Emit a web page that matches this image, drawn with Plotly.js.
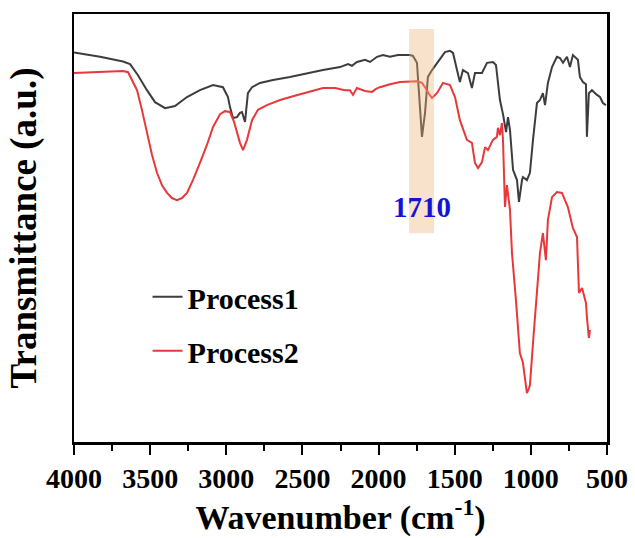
<!DOCTYPE html>
<html>
<head>
<meta charset="utf-8">
<script src="https://cdn.plot.ly/plotly-3.0.1.min.js"></script>
<style>html,body{margin:0;padding:0;background:#fff;}#chart{width:635px;height:538px;}</style>
</head>
<body>
<div id="chart"></div>
<script>
// Process1 (gray) wavenumber (cm-1) and transmittance (a.u.)
const wn1 = [4000,3829,3678,3632,3580,3521,3468,3402,3337,3258,3173,3087,3022,2989,2976,2956,2930,2910,2897,2877,2858,2831,2779,2693,2582,2470,2365,2253,2201,2175,2142,2089,2056,2010,1971,1925,1873,1794,1774,1748,1728,1715,1695,1676,1649,1610,1564,1531,1511,1485,1466,1446,1413,1387,1367,1321,1288,1249,1229,1203,1183,1163,1150,1137,1117,1091,1078,1058,1052,1026,1006,986,960,940,921,907,888,861,829,809,789,763,743,724,691,678,658,638,632,619,599,566,546,527,507];
const t1  = [91.0,90.0,88.9,88.3,85.7,82.2,79.4,78.0,78.5,80.6,82.2,83.4,82.9,80.6,78.3,75.7,75.9,76.9,77.1,74.8,81.5,82.9,83.9,84.6,85.3,86.2,86.9,87.6,88.3,87.9,88.8,89.3,88.8,90.0,90.4,90.0,90.4,90.4,90.2,88.6,76.9,71.3,76.9,85.3,86.9,88.8,91.1,91.4,90.9,86.9,84.1,86.9,86.2,82.7,86.2,86.2,88.6,88.8,88.1,79.9,76.6,72.4,75.9,72.9,63.6,61.2,56.1,61.2,61.9,61.2,62.9,70.6,79.2,79.9,81.5,78.7,83.9,87.6,90.0,89.7,88.6,90.0,87.6,90.4,89.3,85.3,84.1,83.6,71.3,81.5,82.2,81.1,80.6,79.2,78.7];
// Process2 (red)
const wn2 = [4000,3829,3678,3645,3586,3554,3521,3488,3455,3422,3389,3357,3324,3291,3258,3219,3173,3127,3087,3041,3009,2976,2949,2930,2910,2890,2864,2831,2792,2733,2647,2562,2450,2365,2286,2221,2188,2168,2142,2089,2043,2017,1991,1925,1859,1774,1748,1715,1695,1669,1649,1617,1577,1531,1498,1466,1420,1387,1367,1347,1321,1301,1282,1249,1223,1216,1203,1190,1183,1170,1157,1137,1124,1098,1072,1052,1039,1026,1012,1006,986,960,940,921,901,888,861,829,796,757,724,697,684,664,658,638,632,619,612];
const t2  = [86.2,86.4,86.7,86.4,82.2,77.6,72.2,67.1,62.9,60.0,58.2,57.0,56.5,57.0,58.2,61.2,65.2,69.4,73.6,76.6,77.3,77.1,74.8,72.2,69.9,68.2,70.6,75.2,77.6,78.7,79.9,80.8,81.8,82.7,82.7,82.2,82.2,81.1,82.7,82.0,81.8,82.5,82.9,83.6,84.1,84.3,84.3,83.9,82.9,81.3,80.4,81.5,83.9,83.4,80.6,75.2,70.6,69.9,65.2,64.0,65.4,68.9,68.2,70.6,71.3,73.4,71.7,74.5,70.6,54.9,60.0,54.2,44.2,33.2,20.8,18.5,14.5,11.4,12.6,13.3,23.1,35.5,44.2,48.8,42.5,51.9,57.2,58.4,58.2,54.9,50.0,47.9,34.8,36.0,35.0,32.5,29.2,24.3,26.2];
const seriesNames = ["Process1","Process2"];
const seriesColors = ["#3d3d3d","#e8383b"];
const xTickVals = [4000,3500,3000,2500,2000,1500,1000,500];
const bandRange = [1800,1636];   // highlighted band around 1710 cm-1
const bandLabel = "1710";

const serif = "Liberation Serif, Times New Roman, serif";

const traces = [
  {x: wn1, y: t1, type: "scatter", mode: "lines", name: seriesNames[0], legendgroup: "a",
   line: {color: seriesColors[0], width: 2}},
  {x: wn2, y: t2, type: "scatter", mode: "lines", name: seriesNames[1], legendgroup: "b",
   line: {color: seriesColors[1], width: 2}}
];

const layout = {
  width: 635, height: 538,
  margin: {l: 74, r: 28, t: 14, b: 96},
  paper_bgcolor: "#fff", plot_bgcolor: "#fff",
  showlegend: true,
  legend: {x: 0.138, y: 0.40, xanchor: "left", yanchor: "top", bgcolor: "rgba(0,0,0,0)",
           font: {family: serif, size: 30, color: "#000", weight: "bold"}, tracegroupgap: 12},
  xaxis: {
    range: [4000, 500], tickvals: xTickVals, ticktext: xTickVals.map(String),
    showgrid: false, zeroline: false, showline: true, mirror: true, linecolor: "#000", linewidth: 2.5,
    ticks: "outside", ticklen: 10, tickwidth: 2, tickcolor: "#000",
    minor: {dtick: 250, ticks: "outside", ticklen: 6, tickwidth: 2, tickcolor: "#000", showgrid: false},
    tickfont: {family: serif, size: 28, color: "#000", weight: "bold"},
    title: {text: "Wavenumber (cm<sup>-1</sup>)", font: {family: serif, size: 34, color: "#000", weight: "bold"}, standoff: 6}
  },
  yaxis: {
    range: [0, 100], showticklabels: false, ticks: "", showgrid: false, zeroline: false,
    showline: true, mirror: true, linecolor: "#000", linewidth: 2.5,
    title: {text: "Transmittance (a.u.)", font: {family: serif, size: 37, color: "#000", weight: "bold"}, standoff: 24}
  },
  shapes: [
    {type: "rect", xref: "x", yref: "y", x0: bandRange[0], x1: bandRange[1], y0: 48.8, y1: 96.5,
     fillcolor: "rgba(240,180,120,0.38)", line: {width: 0}, layer: "above"}
  ],
  annotations: [
    {x: (bandRange[0] + bandRange[1]) / 2, y: 55, xref: "x", yref: "y", text: bandLabel, showarrow: false,
     font: {family: serif, size: 29, color: "#1414d2", weight: "bold"}}
  ]
};

Plotly.newPlot("chart", traces, layout, {displayModeBar: false, staticPlot: true});
</script>
</body>
</html>
